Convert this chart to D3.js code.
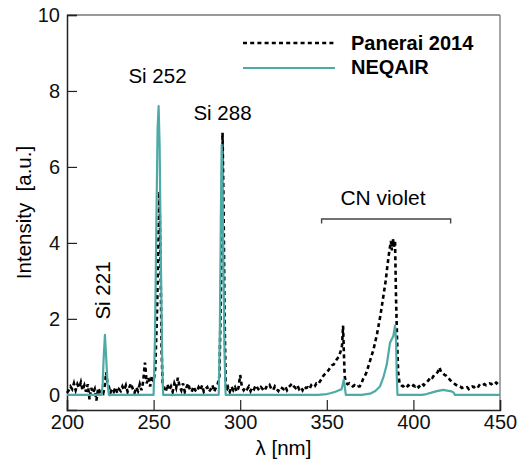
<!DOCTYPE html>
<html><head><meta charset="utf-8">
<script src="https://cdn.jsdelivr.net/npm/d3@7"></script>
<style>
body{margin:0;background:#fff;}
svg{display:block;font-family:"Liberation Sans",Arial,Helvetica,sans-serif;}
</style></head>
<body><svg id="c" width="526" height="466"></svg>
<script>
// NEQAIR simulated spectrum
const neqairLambda = [200,220,220.6,221.2,221.9,222.6,223.4,224.2,250.0,250.8,251.6,252.3,252.9,253.5,254.2,255.0,255.5,
  287.6,288.2,288.8,289.3,289.8,290.4,291.0,291.6,345,350,352,355,357,358.6,359.8,360.4,361,370,375,378,380.7,382.6,384.6,386.5,388.4,389.4,390.0,390.4,390.8,
  405,407.6,410,413,415,417.3,419.5,422,423.2,424,450];
const neqairI = [0,0,0.3,1.0,1.58,1.0,0.3,0,0,1.5,4.5,7.0,7.6,6.5,3.5,0.8,0,
  0,1.5,4.5,6.58,5.5,3.0,1.0,0,0,0.02,0.04,0.08,0.12,0.15,0.4,0.2,0,0,0.03,0.1,0.22,0.45,0.79,1.37,1.55,1.82,1.4,0.5,0,
  0,0.02,0.05,0.09,0.11,0.13,0.11,0.09,0.06,0,0];

// Panerai 2014 measured spectrum
const paneraiLambda = [200,201,202,203,204,205,206,207,208,209,210,211,212,213,214,215,216,217,218,219,220,221,222,222.6,223.2,224,225,226,227,228,229,230,231,232,233,234,235,236,237,238,239,240,241,242,243,244,245,245.6,246,247,248,249,250,251,252,253,253.4,254,254.6,255.2,256,257,258,259,260,261,262,263,264,265,266,267,268,269,270,271,272,273,274,275,276,277,278,279,280,281,282,283,284,285,286,287,288,289,289.8,290.4,291,291.6,292,293,294,295,296,297,298,299,300,301,302,303,304,305,306,307,308,309,310,311,312,313,314,315,316,317,318,319,320,321,322,323,324,325,326,327,328,329,330,331,332,333,334,335,336,337,338,339,340,341,342,343,344,345,346,347,348,349,350,351,352,353,354,355,356,357,358,358.8,359.4,359.8,360.3,361,362,363,364,365,366,367,368,369,370,371,372,373,374,375,376,377,378,379,380,381,382,383,384,385,386,387,387.6,388.2,388.8,389.4,390,390.6,391.2,392,393,394,395,396,397,398,399,400,401,402,403,404,405,406,407,408,409,410,411,412,413,414,415,416,417,418,419,420,421,422,423,424,425,426,427,428,429,430,431,432,433,434,435,436,437,438,439,440,441,442,443,444,445,446,447,448,449,450];
const paneraiI = [0.05,0.12,0.22,0.15,0.3,0.12,0.28,0.18,0.33,0.12,0.25,0.08,0.28,-0.12,0.18,0.05,0.15,-0.15,0.18,0.08,0.12,0.05,0.3,0.6,0.35,0.25,0.05,0.15,0.08,0.2,0.05,0.15,0.1,0.22,0.12,0.25,0.08,0.2,0.3,0.15,0.05,0.2,0.1,0.28,0.12,0.35,0.85,0.55,0.3,0.45,0.22,0.5,0.35,0.7,2.2,4.6,5.35,3.5,1.2,0.3,0.15,0.08,0.28,0.12,0.22,0.08,0.3,0.18,0.45,0.22,0.12,0.3,0.08,0.2,0.3,0.12,0.08,0.22,0.12,0.08,0.2,0.12,0.25,0.08,0.15,0.2,0.08,0.15,0.25,0.08,0.2,0.28,0.5,3.0,6.9,5.0,2.0,0.4,0.1,0.2,0.08,0.22,0.12,0.2,0.08,0.18,0.52,0.2,0.12,0.2,0.15,0.22,0.1,0.2,0.15,0.25,0.18,0.12,0.2,0.15,0.1,0.2,0.18,0.25,0.15,0.12,0.22,0.15,0.1,0.2,0.18,0.15,0.22,0.12,0.2,0.25,0.3,0.22,0.18,0.25,0.15,0.2,0.12,0.22,0.18,0.2,0.15,0.25,0.2,0.22,0.3,0.28,0.35,0.42,0.5,0.55,0.58,0.65,0.72,0.78,0.8,0.88,0.95,1.0,1.15,1.3,1.82,1.2,0.5,0.32,0.28,0.3,0.25,0.22,0.25,0.2,0.22,0.22,0.3,0.42,0.5,0.6,0.75,0.9,1.05,1.2,1.4,1.6,1.85,2.1,2.4,2.7,3.0,3.4,3.75,4.05,3.8,4.1,3.9,4.05,2.5,1.4,0.6,0.3,0.25,0.22,0.25,0.2,0.25,0.22,0.2,0.25,0.22,0.26,0.2,0.25,0.3,0.25,0.3,0.35,0.4,0.48,0.45,0.52,0.55,0.6,0.72,0.6,0.58,0.52,0.5,0.45,0.4,0.35,0.32,0.28,0.25,0.22,0.22,0.18,0.2,0.18,0.2,0.15,0.2,0.22,0.2,0.22,0.18,0.25,0.22,0.25,0.28,0.25,0.28,0.3,0.28,0.32,0.35,0.3,0.35,0.3];

const xTicks = [200,250,300,350,400,450];
const yTicks = [0,2,4,6,8,10];
const seriesNames = ["Panerai 2014","NEQAIR"];
const peakLabels = [{t:"Si 252",x:253,y:8.2},{t:"Si 288",x:288,y:7.2}];

const svg = d3.select("#c");
const L=67,R=500,T=15,B=410;
const x = d3.scaleLinear().domain([200,450]).range([L,R]);
const y = d3.scaleLinear().domain([-0.4,10]).range([B,T]);
const teal = "#4eaaa6";

// frame top/right
svg.append("line").attr("x1",L).attr("x2",R).attr("y1",T).attr("y2",T).attr("stroke","#777").attr("stroke-width",1.3);
svg.append("line").attr("x1",R).attr("x2",R).attr("y1",T).attr("y2",B).attr("stroke","#777").attr("stroke-width",1.3);

// x axis
const gx = svg.append("g").attr("transform",`translate(0,${B})`);
gx.call(d3.axisBottom(x).tickValues(d3.range(200,451,10)).tickSize(-6).tickFormat(""))
  .call(g=>g.select(".domain").remove());
gx.call(d3.axisBottom(x).tickValues(xTicks).tickSize(-10).tickPadding(5).tickFormat(d3.format("d")));
gx.selectAll("line").attr("stroke","#222").attr("stroke-width",1.2);
gx.select(".domain").attr("stroke","#222").attr("stroke-width",1.5);
gx.selectAll("text").attr("font-size",20).attr("fill","#111").attr("font-family","Liberation Sans, Arial, sans-serif");

// y axis
const gy = svg.append("g").attr("transform",`translate(${L},0)`);
gy.call(d3.axisLeft(y).tickValues(d3.range(0,10.01,0.5)).tickSize(-6).tickFormat(""))
  .call(g=>g.select(".domain").remove());
gy.call(d3.axisLeft(y).tickValues(yTicks).tickSize(-10).tickPadding(7).tickFormat(d3.format("d")));
gy.selectAll("line").attr("stroke","#222").attr("stroke-width",1.2);
gy.select(".domain").attr("stroke","#222").attr("stroke-width",1.5);
gy.selectAll("text").attr("font-size",20).attr("fill","#111").attr("font-family","Liberation Sans, Arial, sans-serif");

// lines
const line = d3.line().x(d=>x(d[0])).y(d=>y(d[1]));
const nq = neqairLambda.map((l,i)=>[l,neqairI[i]]);
const pa = paneraiLambda.map((l,i)=>[l,paneraiI[i]]);
svg.append("path").datum(pa).attr("d",line).attr("fill","none").attr("stroke","#000")
  .attr("stroke-width",2.6).attr("stroke-dasharray","4,3.2");
svg.append("path").datum(nq).attr("d",line).attr("fill","none").attr("stroke",teal)
  .attr("stroke-width",2.2).attr("stroke-linejoin","round");

// legend
svg.append("line").attr("x1",243).attr("x2",335).attr("y1",43).attr("y2",43).attr("stroke","#000").attr("stroke-width",2.6).attr("stroke-dasharray","4,3.2");
svg.append("line").attr("x1",243).attr("x2",335).attr("y1",68).attr("y2",68).attr("stroke",teal).attr("stroke-width",2.2);
svg.append("text").attr("x",351).attr("y",50).attr("font-size",20).attr("font-weight","bold").text(seriesNames[0]);
svg.append("text").attr("x",351).attr("y",74).attr("font-size",20).attr("font-weight","bold").text(seriesNames[1]);

// annotations
svg.append("text").attr("x",157.5).attr("y",83).attr("text-anchor","middle").attr("font-size",20.5).text("Si 252");
svg.append("text").attr("x",222.5).attr("y",120).attr("text-anchor","middle").attr("font-size",20.5).text("Si 288");
svg.append("text").attr("transform","translate(110,290.5) rotate(-90)").attr("text-anchor","middle").attr("font-size",20.5).text("Si 221");
svg.append("text").attr("x",383).attr("y",205).attr("text-anchor","middle").attr("font-size",21).text("CN violet");
svg.append("path").attr("d",`M${x(347)},223.5V219H${x(421.5)}V223.5`).attr("fill","none").attr("stroke","#444").attr("stroke-width",1.4);

// axis titles
svg.append("text").attr("x",(L+R)/2).attr("y",455).attr("text-anchor","middle").attr("font-size",20.5).text("λ [nm]");
svg.append("text").attr("transform",`translate(31,${(T+B)/2}) rotate(-90)`).attr("text-anchor","middle").attr("font-size",20.5)
  .attr("xml:space","preserve").style("white-space","pre").text("Intensity  [a.u.]");
</script></body></html>
